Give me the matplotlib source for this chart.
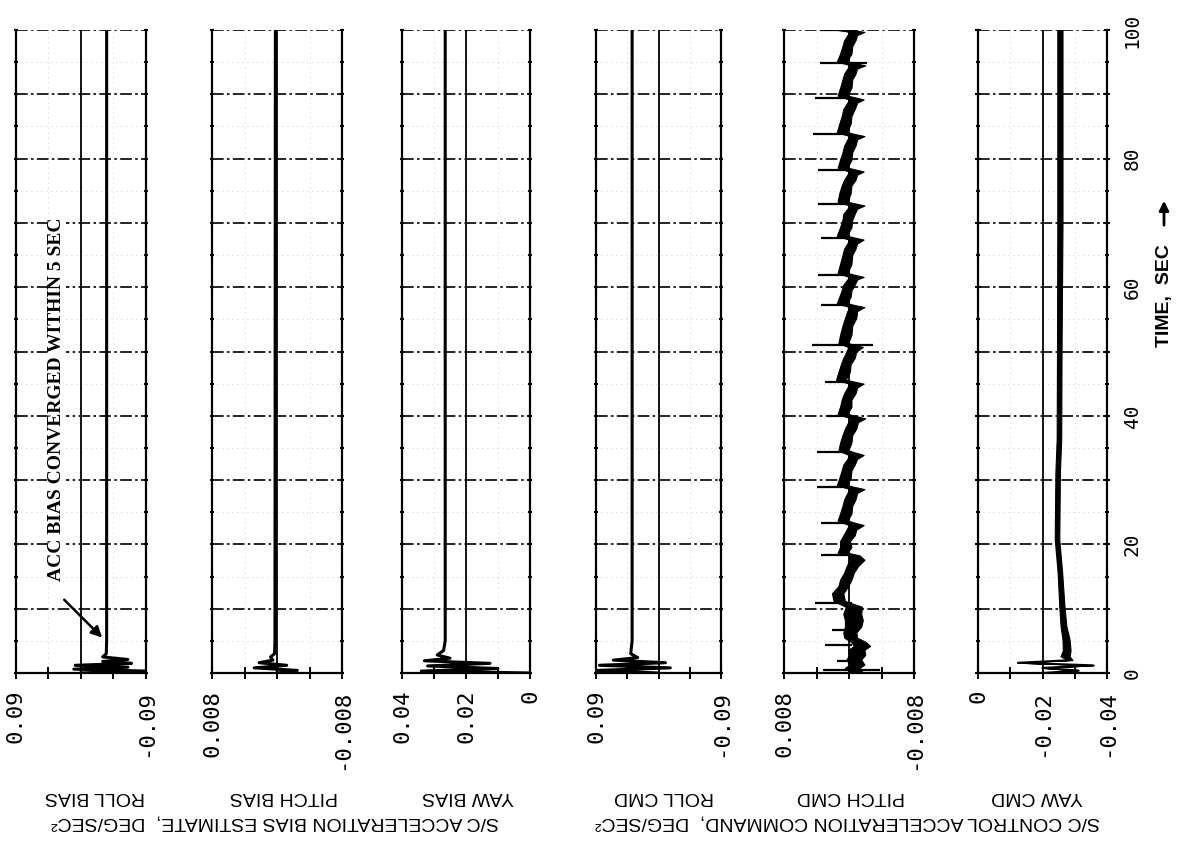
import matplotlib
matplotlib.use('Agg')
import matplotlib.pyplot as plt

# ---------------- data ----------------
time_ticks = [0, 10, 20, 30, 40, 50, 60, 70, 80, 90, 100]
time_tick_labels = ['0', '', '20', '', '40', '', '60', '', '80', '', '100']

panel_names = ['ROLL BIAS', 'PITCH BIAS', 'YAW BIAS', 'ROLL CMD', 'PITCH CMD', 'YAW CMD']
group_names = ['S/C ACCELERATION BIAS ESTIMATE,  DEG/SEC\u00b2',
               'S/C CONTROL ACCELERATION COMMAND,  DEG/SEC\u00b2']
value_limits = [(0.09, -0.09), (0.008, -0.008), (0.04, 0.0),
                (0.09, -0.09), (0.008, -0.008), (0.0, -0.04)]
value_ticks = [[0.09, 0.045, 0.0, -0.045, -0.09],
               [0.008, 0.004, 0.0, -0.004, -0.008],
               [0.04, 0.03, 0.02, 0.01, 0.0],
               [0.09, 0.045, 0.0, -0.045, -0.09],
               [0.008, 0.004, 0.0, -0.004, -0.008],
               [0.0, -0.01, -0.02, -0.03, -0.04]]
value_tick_labels = [['0.09', '', '', '', '-0.09'],
                     ['0.008', '', '', '', '-0.008'],
                     ['0.04', '', '0.02', '', '0'],
                     ['0.09', '', '', '', '-0.09'],
                     ['0.008', '', '', '', '-0.008'],
                     ['0', '', '-0.02', '', '-0.04']]
center_grid = [0.0, 0.0, 0.02, 0.0, 0.0, -0.02]

roll_bias_t = [0.0, 0.3, 0.6, 0.9, 1.2, 1.5, 1.8, 2.1, 2.5, 3.0, 5.0, 100.0]
roll_bias_v = [0.0, -0.09, 0.01, -0.065, 0.008, -0.07, -0.03, -0.065, -0.030, -0.035, -0.0355, -0.0355]

pitch_bias_t = [0.0, 0.4, 0.8, 1.2, 1.6, 2.0, 2.5, 3.0, 5.0, 100.0]
pitch_bias_v = [0.0, -0.0025, 0.0028, -0.0012, 0.0022, 0.0005, 0.0008, 0.0003, 0.00025, 0.0002]

yaw_bias_t = [0.0, 0.3, 0.7, 1.1, 1.5, 1.9, 2.3, 2.8, 3.5, 5.0, 100.0]
yaw_bias_v = [0.0, 0.034, 0.010, 0.032, 0.0125, 0.033, 0.025, 0.029, 0.027, 0.0265, 0.0265]

roll_cmd_t = [0.0, 0.4, 0.8, 1.2, 1.6, 2.0, 2.4, 3.0, 5.0, 100.0]
roll_cmd_v = [0.0, 0.088, -0.017, 0.085, -0.010, 0.065, 0.030, 0.040, 0.038, 0.038]

pitch_cmd_t = [0.0, 0.3, 0.8, 1.3, 2.1, 2.8, 3.6, 4.2, 4.8, 5.5, 6.3, 7.2, 8.2, 9.2, 10.3,
               11.2, 12.4, 13.5, 14.5, 15.6, 16.6, 17.6, 18.3,
               18.7, 19.6, 20.5, 21.4, 22.3, 23.0,
               23.7, 24.8, 26.0, 27.0, 28.0, 28.6,
               29.2, 30.3, 31.5, 32.4, 33.3, 33.9,
               34.6, 35.8, 37.0, 38.0, 39.0, 39.6,
               40.3, 41.4, 42.5, 43.5, 44.4, 45.0,
               45.6, 46.8, 48.0, 49.0, 50.0, 50.7,
               51.3, 52.6, 54.0, 55.2, 56.3, 56.9,
               57.5, 58.5, 59.5, 60.4, 61.2, 61.6,
               62.2, 63.6, 65.0, 66.0, 66.8, 67.4,
               68.0, 69.3, 70.5, 71.4, 72.2, 72.7,
               73.3, 74.6, 75.8, 76.7, 77.5, 78.0,
               78.6, 79.8, 81.0, 82.0, 83.0, 83.5,
               84.1, 85.4, 86.6, 87.7, 88.7, 89.2,
               89.8, 91.0, 92.3, 93.2, 94.0, 94.5,
               95.1, 96.3, 97.5, 98.4, 99.2, 99.7, 100.0]
pitch_cmd_mid = [-0.0003, -0.0008, -0.0004, -0.0010, -0.0006, -0.0010, -0.0009, -0.0016, -0.0012,
                 -0.0002, -0.0001, -0.0005, -0.0006, -0.0004, -0.0006,
                 0.0012, 0.0014, 0.0007, 0.0004, 0.0000, -0.0004, -0.0010, -0.0006,
                 0.0008, 0.0004, 0.0005, 0.0000, -0.0003, -0.0009,
                 0.0008, 0.0004, 0.0002, -0.0001, -0.0004, -0.0010,
                 0.0009, 0.0005, 0.0003, 0.0000, -0.0004, -0.0009,
                 0.0007, 0.0004, 0.0002, -0.0002, -0.0005, -0.0011,
                 0.0008, 0.0004, 0.0003, -0.0001, -0.0004, -0.0009,
                 0.0010, 0.0006, 0.0004, 0.0000, -0.0003, -0.0008,
                 0.0007, 0.0004, 0.0002, -0.0002, -0.0004, -0.0010,
                 0.0009, 0.0005, 0.0003, 0.0000, -0.0004, -0.0009,
                 0.0008, 0.0004, 0.0002, -0.0001, -0.0004, -0.0009,
                 0.0009, 0.0004, 0.0002, 0.0000, -0.0004, -0.0010,
                 0.0008, 0.0005, 0.0003, -0.0001, -0.0004, -0.0009,
                 0.0008, 0.0004, 0.0002, -0.0001, -0.0004, -0.0010,
                 0.0009, 0.0005, 0.0003, 0.0000, -0.0004, -0.0009,
                 0.0008, 0.0004, 0.0002, -0.0001, -0.0004, -0.0011,
                 0.0009, 0.0004, 0.0002, -0.0001, -0.0004, -0.0010, 0.0005]
pitch_cmd_hw = [0.0003, 0.0008, 0.0009, 0.0009, 0.0009, 0.0010, 0.0010, 0.0010, 0.0009,
                0.0008, 0.0008, 0.0010, 0.0011, 0.0011, 0.0010] + \
               [0.0007, 0.0007, 0.0006, 0.0007, 0.0006, 0.0007, 0.0009, 0.0007] + \
               [0.0006, 0.0007, 0.0006, 0.0007, 0.0006, 0.0009] * 14 + \
               [0.0006, 0.0007, 0.0006, 0.0007, 0.0006, 0.0009, 0.0009]
pitch_spike_t = [0.5, 1.8, 4.4, 6.7, 10.9, 18.4, 23.4, 28.9, 34.3, 40.0, 45.3, 51.0,
                 57.2, 61.9, 67.7, 73.0, 78.3, 83.8, 89.5, 94.8, 100.0]
pitch_spike_tip = [0.0032, 0.0015, 0.0030, 0.0021, 0.0042, 0.0034, 0.0034, 0.0040, 0.0040,
                   0.0027, 0.0030, 0.0046, 0.0034, 0.0038, 0.0034, 0.0038, 0.0038, 0.0044,
                   0.0042, 0.0036, 0.0036]
pitch_spike_right_t = [0.5, 51.0, 94.8]
pitch_spike_right_tip = [-0.0038, -0.0030, -0.0022]

yaw_cmd_t = [0.0, 0.4, 0.8, 1.2, 1.6, 2.0, 2.6, 3.5, 5.2, 7.3, 10.4, 15.6, 20.8, 31.2, 36.4, 50.0, 70.0, 100.0]
yaw_cmd_mid = [-0.020, -0.031, -0.020, -0.0357, -0.0124, -0.0285, -0.0270, -0.0275, -0.0273,
               -0.0265, -0.0260, -0.0254, -0.0245, -0.0247, -0.0251, -0.0252, -0.0254, -0.0254]
yaw_cmd_hw = [0.0002, 0.0003, 0.0003, 0.0003, 0.0003, 0.0008, 0.0014, 0.0012, 0.0011,
              0.0009, 0.0008, 0.0007, 0.0007, 0.0007, 0.0007, 0.0007, 0.0008, 0.0008]

# ---------------- layout ----------------
W, H = 1184, 844
fig = plt.figure(figsize=(W / 100, H / 100), dpi=100)
panel_px = [(16, 146), (212, 342), (402, 530), (596, 721), (784, 914), (978, 1107)]
top_px, bot_px = 30, 673
label_px = [95, 284, 468, 664, 851, 1037]
group_px = [275, 848]

MONO = 'DejaVu Sans Mono'
SANS = ['Liberation Sans', 'DejaVu Sans']

axes = []
for i, (x0, x1) in enumerate(panel_px):
    ax = fig.add_axes([x0 / W, 1 - bot_px / H, (x1 - x0) / W, (bot_px - top_px) / H])
    ax.set_xlim(*value_limits[i])
    ax.set_ylim(0, 100)
    ax.spines['top'].set_visible(False)
    for s in ['left', 'right', 'bottom']:
        ax.spines[s].set_linewidth(1.6)
    # faint dotted minor grid
    for t in range(5, 100, 10):
        ax.axhline(t, color='#bbbbbb', lw=0.6, ls=(0, (1, 5)), zorder=0)
    for v in (value_ticks[i][1], value_ticks[i][3]):
        ax.axvline(v, color='#bbbbbb', lw=0.6, ls=(0, (1, 5)), zorder=0)
    # dashed time grid (incl. top border)
    for t in time_ticks[1:]:
        ax.axhline(t, color='black', lw=1.2, ls=(0, (7, 2, 1.5, 2)), zorder=1)
    ax.axvline(center_grid[i], color='black', lw=1.3, zorder=1)
    ax.set_xticks(value_ticks[i])
    ax.set_xticklabels(value_tick_labels[i], family=MONO, fontsize=16)
    ax.tick_params(axis='x', direction='inout', length=8, width=1.4, labelrotation=90, pad=8)
    ax.set_yticks(list(range(0, 101, 5)))
    ax.tick_params(axis='y', direction='inout', length=3, width=1.5, left=True, right=True,
                   labelleft=False, labelright=False)
    axes.append(ax)
    fig.text(label_px[i] / W, 1 - 797 / H, panel_names[i], rotation=180, ha='center', va='center',
             family=SANS, fontsize=14)

for j, name in enumerate(group_names):
    fig.text(group_px[j] / W, 1 - 822 / H, name, rotation=180, ha='center', va='center',
             family=SANS, fontsize=14)

LW = 2.2
axes[0].plot(roll_bias_v, roll_bias_t, color='black', lw=LW, zorder=3)
axes[1].plot(pitch_bias_v, pitch_bias_t, color='black', lw=LW, zorder=3)
axes[2].plot(yaw_bias_v, yaw_bias_t, color='black', lw=LW, zorder=3)
axes[3].plot(roll_cmd_v, roll_cmd_t, color='black', lw=LW, zorder=3)

ax5 = axes[4]
lo5 = [m - h for m, h in zip(pitch_cmd_mid, pitch_cmd_hw)]
hi5 = [m + h for m, h in zip(pitch_cmd_mid, pitch_cmd_hw)]
ax5.fill_betweenx(pitch_cmd_t, lo5, hi5, color='black', lw=0.8, zorder=3)
ax5.hlines(pitch_spike_t, -0.0004, pitch_spike_tip, color='black', lw=1.6, zorder=3)
ax5.hlines(pitch_spike_right_t, 0.0, pitch_spike_right_tip, color='black', lw=1.6, zorder=3)

ax6 = axes[5]
lo6 = [m - h for m, h in zip(yaw_cmd_mid, yaw_cmd_hw)]
hi6 = [m + h for m, h in zip(yaw_cmd_mid, yaw_cmd_hw)]
ax6.fill_betweenx(yaw_cmd_t, lo6, hi6, color='black', lw=0.8, zorder=3)
ax6.plot(yaw_cmd_mid, yaw_cmd_t, color='black', lw=1.4, zorder=3)

# time axis labels on the right of the last panel
ax6.set_yticks(time_ticks)
ax6.set_yticklabels(time_tick_labels, family=MONO, fontsize=14)
ax6.tick_params(axis='y', labelright=True, labelleft=False, labelrotation=90, pad=9,
                direction='inout', length=5)
for lab in ax6.get_yticklabels():
    lab.set_va('center')
ax6.set_yticks(list(range(0, 101, 5)), minor=True)
ax6.tick_params(axis='y', which='minor', direction='inout', length=3, width=1.5, left=True, right=True)

fig.text(1165 / W, 1 - 296 / H, 'TIME,  SEC', rotation=90, ha='center', va='center',
         family=SANS, fontweight='bold', fontsize=14)
fig.add_artist(matplotlib.patches.FancyArrowPatch(
    (1164 / W, 1 - 228 / H), (1164 / W, 1 - 198 / H), transform=fig.transFigure,
    arrowstyle='-|>', mutation_scale=14, color='black', lw=2.0))

# annotation in the first panel
ax1 = axes[0]
ax1.annotate('', xy=(-0.032, 5.2), xytext=(0.026, 11.7),
             arrowprops=dict(arrowstyle='-|>', color='black', lw=1.8, mutation_scale=16), zorder=4)
ax1.text(0.034, 42.5, 'ACC BIAS CONVERGED WITHIN 5 SEC', rotation=90, ha='center', va='center',
         family=['Liberation Serif', 'DejaVu Serif'], fontweight='bold', fontsize=14,
         bbox=dict(facecolor='white', edgecolor='none', pad=1), zorder=5)

fig.savefig('out.png', dpi=100)
